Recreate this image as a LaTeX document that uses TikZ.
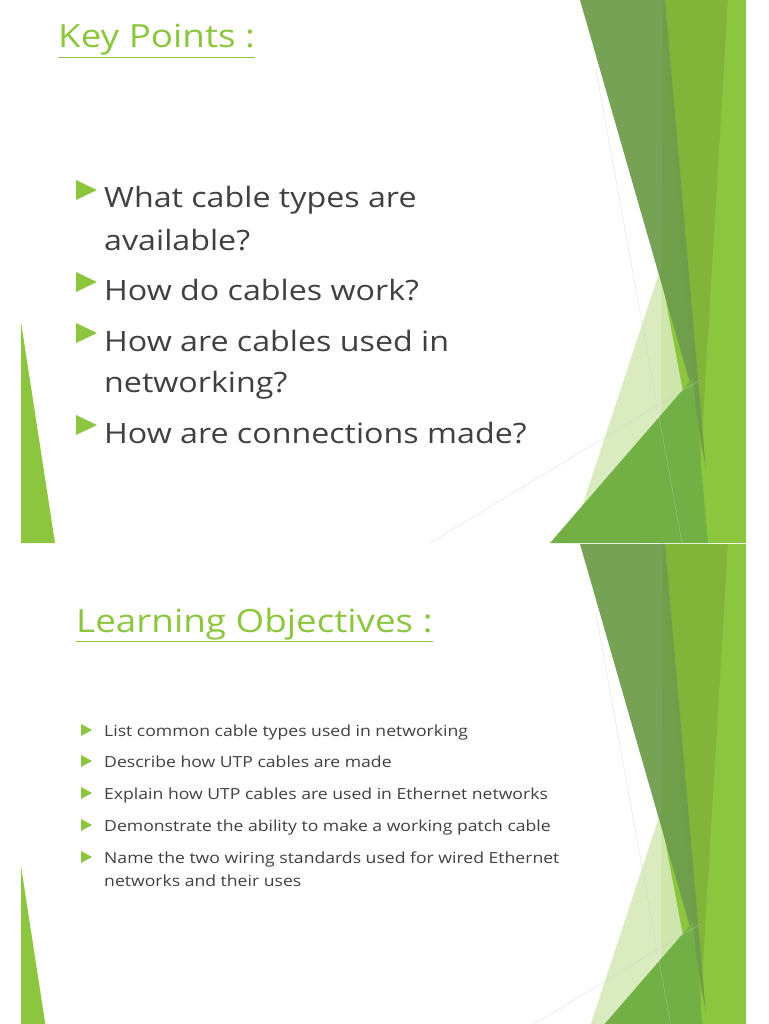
\documentclass[tikz,border=0pt]{standalone}
\usepackage{fontspec}
\setmainfont{Open Sans}[FakeStretch=1.15]
\usetikzlibrary{positioning}
\definecolor{leafdark}{HTML}{6E9D4C}
\definecolor{leafmid}{HTML}{82B43A}
\definecolor{leafbright}{HTML}{8CC63F}
\definecolor{leafpale}{HTML}{D6E9B8}
\definecolor{leafgrass}{HTML}{72B045}
\definecolor{slidetext}{HTML}{404040}
\newcommand{\slidedeco}{%
  \fill[leafbright] (663,0) -- (746,0) -- (746,543) -- (660,543) -- cycle;
  \fill[leafmid] (663,0) -- (728,0) -- (700,470) -- cycle;
  \fill[leafpale, opacity=.9] (570,543) -- (660,270) -- (692,440) -- (640,543) -- cycle;
  \fill[leafdark, opacity=.95] (580,0) -- (665,0) -- (706,470) -- (692,390) -- cycle;
  \fill[leafgrass] (550,543) -- (693,378) -- (708,543) -- cycle;
  \draw[gray!40, very thin] (596,70) -- (682,543);
  \draw[gray!40, very thin] (430,543) -- (700,380);
  \fill[leafbright] (21,322) -- (21,543) -- (55,543) -- cycle;}
\tikzset{
  slidetitle/.style={anchor=base west, inner sep=0pt, text=leafbright,
    font=\fontsize{32}{36}\selectfont},
  bigitem/.style={anchor=base west, inner sep=0pt, text=slidetext,
    font=\fontsize{28}{32}\selectfont},
  smallitem/.style={anchor=base west, inner sep=0pt, text=slidetext,
    font=\fontsize{15.3}{18}\selectfont},
  marker/.style={fill=leafbright}}
\begin{document}
\begin{tikzpicture}[x=1pt, y=-1pt]
  \useasboundingbox (0,0) rectangle (768,1024);
  \clip (0,0) rectangle (768,1024);
  % first slide
  \slidedeco
  \node[slidetitle] (keytitle) at (58,48) {\underline{Key Points :}};
  \node[bigitem] (q1) at (104,208) {What cable types are};
  \node[bigitem] (q1b) at (104,250) {available?};
  \node[bigitem] (q2) at (104,300) {How do cables work?};
  \node[bigitem] (q3) at (104,351) {How are cables used in};
  \node[bigitem] (q3b) at (104,392) {networking?};
  \node[bigitem] (q4) at (104,443) {How are connections made?};
  \foreach \y in {190,282,333,425}
    \fill[marker] (76,\y-10) -- (97,\y) -- (76,\y+10) -- cycle;
  % second slide
  \begin{scope}[shift={(0,544)}]
    \slidedeco
  \end{scope}
  \node[slidetitle] (objtitle) at (76,632) {\underline{Learning Objectives :}};
  \node[smallitem] (o1) at (104,736) {List common cable types used in networking};
  \node[smallitem] (o2) at (104,767) {Describe how UTP cables are made};
  \node[smallitem] (o3) at (104,799) {Explain how UTP cables are used in Ethernet networks};
  \node[smallitem] (o4) at (104,831) {Demonstrate the ability to make a working patch cable};
  \node[smallitem] (o5) at (104,863) {Name the two wiring standards used for wired Ethernet};
  \node[smallitem] (o5b) at (104,886) {networks and their uses};
  \foreach \y in {730,761,793,825,857}
    \fill[marker] (81,\y-6) -- (92,\y) -- (81,\y+6) -- cycle;
\end{tikzpicture}
\end{document}
